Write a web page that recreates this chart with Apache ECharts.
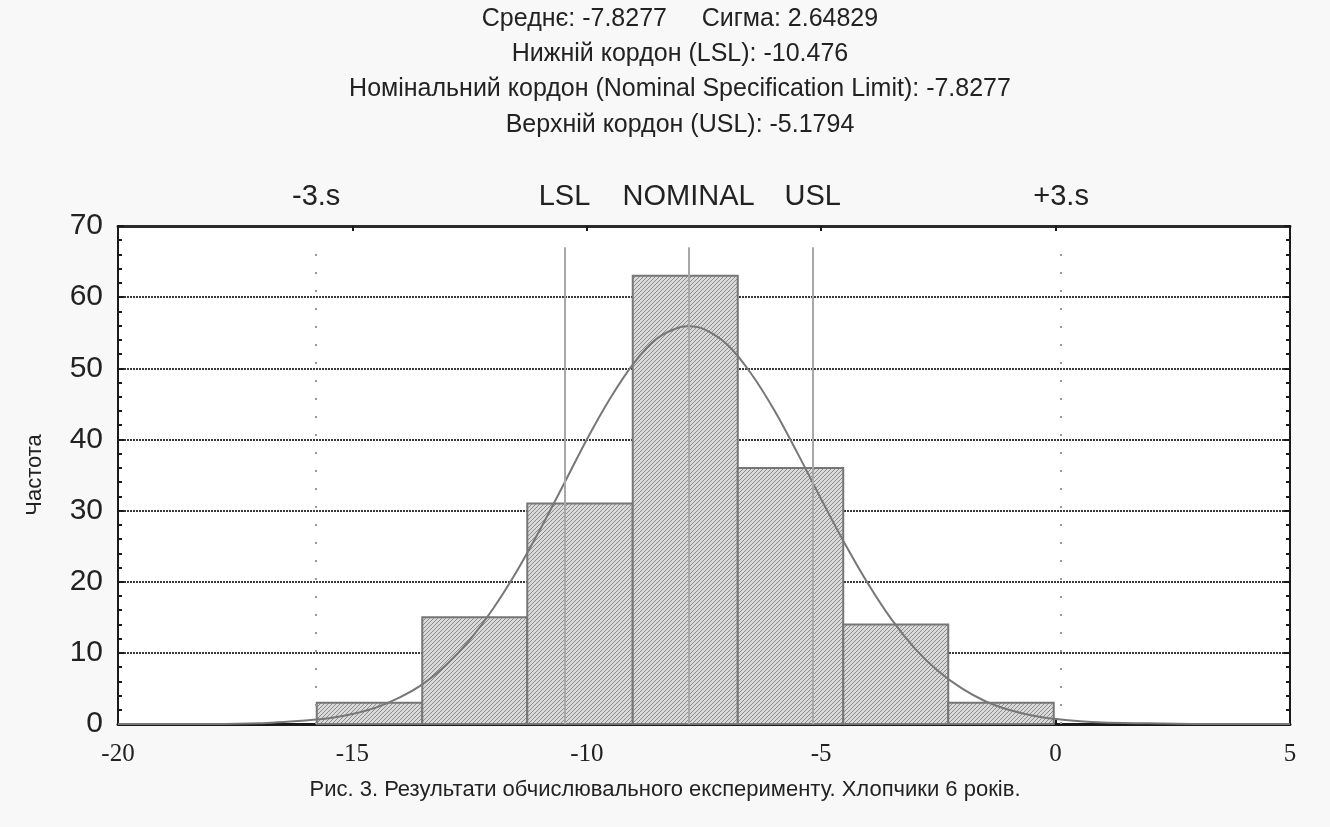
<!DOCTYPE html>
<html>
<head>
<meta charset="utf-8">
<script src="https://cdn.jsdelivr.net/npm/echarts@6/dist/echarts.min.js"></script>
<style>
  html, body { margin: 0; padding: 0; background: #f8f8f8; }
  #chart { width: 1330px; height: 827px; }
</style>
</head>
<body>
<div id="chart"></div>
<script>
// histogram bins (from, to) and counts
const binEdges = [-15.76, -13.51, -11.27, -9.02, -6.78, -4.53, -2.29, -0.04];
const binCounts = [3, 15, 31, 63, 36, 14, 3];

// fitted curve
const curveX = [-20, -19, -18, -17, -16, -15.5, -15, -14.5, -14, -13.5, -13, -12.5, -12, -11.5, -11, -10.5, -10, -9.5, -9, -8.5, -8, -7.83, -7.5, -7, -6.5, -6, -5.5, -5, -4.5, -4, -3.5, -3, -2.5, -2, -1.5, -1, -0.5, 0, 1, 2, 3, 4, 5];
const curveY = [0, 0, 0, 0.1, 0.5, 0.8, 1.4, 2.3, 3.7, 5.6, 8.3, 11.8, 16.2, 21.4, 27.3, 33.6, 40.0, 45.8, 50.7, 54.2, 55.8, 55.9, 55.5, 53.3, 49.3, 44.1, 38.0, 31.6, 25.4, 19.7, 14.7, 10.6, 7.4, 5.0, 3.2, 2.0, 1.2, 0.7, 0.2, 0.1, 0, 0, 0];

// spec limits
const specNames = ['-3.s', 'LSL', 'NOMINAL', 'USL', '+3.s'];
const specValues = [-15.7726, -10.476, -7.8277, -5.1794, 0.1172];
const specDotted = [true, false, false, false, true];
const specTop = 67;

const xTicks = [-20, -15, -10, -5, 0, 5];
const headerLines = [
  'Среднє: -7.8277     Сигма: 2.64829',
  'Нижній кордон (LSL): -10.476',
  'Номінальний кордон (Nominal Specification Limit): -7.8277',
  'Верхній кордон (USL): -5.1794'
];
const caption = 'Рис. 3. Результати обчислювального експерименту. Хлопчики 6 років.';

const histData = binCounts.map((c, i) => [binEdges[i], binEdges[i + 1], c]);
const curveData = curveX.map((x, i) => [x, curveY[i]]);

// fine hatch texture for bars
function makeHatch() {
  const c = document.createElement('canvas');
  c.width = 4; c.height = 4;
  const ctx = c.getContext('2d');
  ctx.fillStyle = '#dadada';
  ctx.fillRect(0, 0, 4, 4);
  ctx.fillStyle = '#8a8a8a';
  for (let i = 0; i < 4; i++) ctx.fillRect(3 - i, i, 1, 1);
  return c;
}
const hatch = makeHatch();

const markData = specValues.map((v, i) => [
  {
    coord: [v, 0],
    lineStyle: specDotted[i]
      ? { color: '#9a9a9a', width: 2, type: [2, 16] }
      : { color: '#a8a8a8', width: 2, type: 'solid' }
  },
  { coord: [v, specTop], name: specNames[i] }
]);

const chart = echarts.init(document.getElementById('chart'));
const font = 'Liberation Sans, Arial, sans-serif';

chart.setOption({
  backgroundColor: '#f8f8f8',
  animation: false,
  grid: {
    left: 118, right: 40, top: 226, bottom: 103,
    show: true, backgroundColor: '#ffffff', borderWidth: 0
  },
  graphic: headerLines.map((t, i) => ({
    type: 'text', x: 680, y: 19 + i * 35.3,
    style: { text: t, fontFamily: font, fontSize: 25, fill: '#222', align: 'center', verticalAlign: 'middle' }
  })).concat([{
    type: 'text', x: 665, y: 790,
    style: { text: caption, fontFamily: font, fontSize: 22, fill: '#222', align: 'center', verticalAlign: 'middle' }
  }]),
  xAxis: [{
    type: 'value', min: xTicks[0], max: xTicks[xTicks.length - 1], interval: 5,
    axisLine: { onZero: false, lineStyle: { color: '#1a1a1a', width: 3 } },
    axisTick: { inside: true, length: 6, lineStyle: { color: '#1a1a1a', width: 2 } },
    axisLabel: { fontFamily: 'Liberation Serif, Times New Roman, serif', fontSize: 25, color: '#222', margin: 18 },
    splitLine: { show: false }
  }, {
    type: 'value', position: 'top', min: xTicks[0], max: xTicks[xTicks.length - 1], interval: 5,
    axisLine: { onZero: false, lineStyle: { color: '#2a2a2a', width: 3, type: [2, 1] } },
    axisTick: { inside: true, length: 5, lineStyle: { color: '#1a1a1a', width: 2 } },
    axisLabel: { show: false },
    splitLine: { show: false }
  }],
  yAxis: [{
    type: 'value', min: 0, max: 70, interval: 10,
    name: 'Частота', nameLocation: 'middle', nameGap: 72, nameRotate: 90,
    nameTextStyle: { fontFamily: font, fontSize: 22, color: '#222' },
    axisLine: { show: true, onZero: false, lineStyle: { color: '#1a1a1a', width: 2 } },
    axisTick: { show: true, inside: true, length: 6, lineStyle: { color: '#1a1a1a', width: 2 } },
    minorTick: { show: true, splitNumber: 5, length: 4, lineStyle: { color: '#1a1a1a', width: 2 } },
    axisLabel: { fontFamily: font, fontSize: 30, color: '#222', margin: 15 },
    splitLine: { show: true, lineStyle: { color: '#3a3a3a', width: 2, type: [2, 1] } }
  }, {
    type: 'value', position: 'right', min: 0, max: 70, interval: 10,
    axisLine: { show: true, onZero: false, lineStyle: { color: '#1a1a1a', width: 2 } },
    axisTick: { show: true, inside: true, length: 6, lineStyle: { color: '#1a1a1a', width: 2 } },
    minorTick: { show: true, splitNumber: 5, length: 4, lineStyle: { color: '#1a1a1a', width: 2 } },
    axisLabel: { show: false },
    splitLine: { show: false }
  }],
  series: [{
    type: 'custom',
    data: histData,
    encode: { x: [0, 1], y: 2 },
    renderItem: (params, api) => {
      const p0 = api.coord([api.value(0), api.value(2)]);
      const p1 = api.coord([api.value(1), 0]);
      return {
        type: 'rect',
        shape: { x: p0[0], y: p0[1], width: p1[0] - p0[0], height: p1[1] - p0[1] },
        style: { fill: { image: hatch, repeat: 'repeat' }, stroke: '#767676', lineWidth: 2 }
      };
    },
    z: 2
  }, {
    type: 'line',
    data: curveData,
    smooth: 0.3,
    showSymbol: false,
    lineStyle: { color: '#777', width: 2 },
    z: 4,
    markLine: {
      silent: true,
      symbol: 'none',
      data: markData,
      label: {
        show: true, position: 'end', distance: 36, formatter: '{b}',
        fontFamily: font, fontSize: 29, color: '#222'
      }
    }
  }]
});
</script>
</body>
</html>
